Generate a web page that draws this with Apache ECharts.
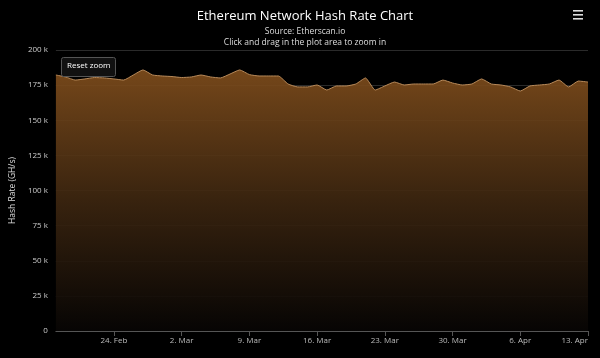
<!DOCTYPE html>
<html>
<head>
<meta charset="utf-8">
<script src="https://cdn.jsdelivr.net/npm/echarts@6/dist/echarts.min.js"></script>
<style>
html,body{margin:0;padding:0;background:#000;}
#c{width:600px;height:358px;}
</style>
</head>
<body>
<div id="c"></div>
<script>
// Dates: daily from 2020-02-18 to 2020-04-13
const dates = [];
(function(){
  let t = Date.UTC(2020,1,18);
  const end = Date.UTC(2020,3,13);
  while (t <= end) { dates.push(new Date(t)); t += 86400000; }
})();
const months = ['Jan','Feb','Mar','Apr','May','Jun','Jul','Aug','Sep','Oct','Nov','Dec'];
const categories = dates.map(d => d.getUTCDate() + '. ' + months[d.getUTCMonth()]);

// Hash rate values (GH/s)
const hashRate = [
  182200, 180800, 178600, 179400, 180400, 180100, 179400, 178600, 182200, 185800,
  182200, 181500, 181100, 180400, 180800, 182200, 180800, 180100, 182900, 185800,
  182500, 181500, 181500, 181500, 175800, 173700, 173700, 175100, 171500, 174400,
  174400, 175800, 180100, 171500, 174400, 177200, 175100, 175800, 175800, 175800,
  178600, 176500, 175100, 175800, 179400, 175800, 175100, 173700, 170800, 174400,
  175100, 175800, 178600, 173700, 177900, 177200
];
const tickLabels = ['24. Feb','2. Mar','9. Mar','16. Mar','23. Mar','30. Mar','6. Apr','13. Apr'];
const yTicks = [0, 25000, 50000, 75000, 100000, 125000, 150000, 175000, 200000];

const font = '"Open Sans", "DejaVu Sans", sans-serif';
const showTick = (i) => tickLabels.indexOf(categories[i]) >= 0;

const chart = echarts.init(document.getElementById('c'));
chart.setOption({
  backgroundColor: '#000',
  animation: false,
  title: [
    { text: 'Ethereum Network Hash Rate Chart', left: 300, top: 5, textAlign: 'center',
      textStyle: { color: '#fff', fontSize: 13, fontWeight: 'normal', fontFamily: font } },
    { text: 'Source: Etherscan.io', left: 300, top: 22, textAlign: 'center',
      textStyle: { color: '#ddd', fontSize: 8.5, fontWeight: 'normal', fontFamily: font } },
    { text: 'Click and drag in the plot area to zoom in', left: 300, top: 33, textAlign: 'center',
      textStyle: { color: '#ddd', fontSize: 8.5, fontWeight: 'normal', fontFamily: font } }
  ],
  grid: { left: 55, right: 12, top: 50, bottom: 27, containLabel: false },
  xAxis: {
    type: 'category',
    data: categories,
    boundaryGap: false,
    axisLine: { show: true, lineStyle: { color: '#555', width: 1 } },
    axisTick: { show: true, interval: showTick, length: 5, lineStyle: { color: '#555' } },
    axisLabel: { interval: showTick, color: '#bbb', fontSize: 8, fontFamily: font, margin: 6,
      alignMaxLabel: 'right' },
    splitLine: { show: false }
  },
  yAxis: {
    type: 'value',
    min: yTicks[0],
    max: yTicks[yTicks.length - 1],
    interval: 25000,
    name: 'Hash Rate (GH/s)',
    nameLocation: 'middle',
    nameGap: 33,
    nameRotate: 90,
    nameTextStyle: { color: '#ddd', fontSize: 8.5, fontFamily: font },
    axisLine: { show: false },
    axisTick: { show: false },
    axisLabel: {
      color: '#ccc', fontSize: 8, fontFamily: font, margin: 8,
      formatter: v => v === 0 ? '0' : (v / 1000) + ' k'
    },
    splitLine: { show: true, lineStyle: { color: '#2a2a2a', width: 1 } }
  },
  series: [{
    type: 'line',
    data: hashRate,
    showSymbol: false,
    symbol: 'none',
    smooth: 0.15,
    lineStyle: { color: '#b88a5a', width: 1 },
    areaStyle: {
      opacity: 0.92,
      color: {
        type: 'linear', x: 0, y: 0, x2: 0, y2: 1,
        colorStops: [
          { offset: 0, color: '#7f4d1c' },
          { offset: 0.5, color: '#3d2610' },
          { offset: 1, color: '#070504' }
        ]
      }
    }
  }],
  graphic: [
    { type: 'rect', left: 61, top: 57, shape: { width: 54, height: 19, r: 2 },
      style: { fill: '#111', stroke: '#555', lineWidth: 1 }, z: 100 },
    { type: 'text', left: 67, top: 62,
      style: { text: 'Reset zoom', fill: '#fff', font: '8px ' + font }, z: 101 },
    { type: 'rect', left: 573, top: 10, shape: { width: 10, height: 1.6 }, style: { fill: '#ddd' } },
    { type: 'rect', left: 573, top: 14, shape: { width: 10, height: 1.6 }, style: { fill: '#ddd' } },
    { type: 'rect', left: 573, top: 18, shape: { width: 10, height: 1.6 }, style: { fill: '#ddd' } }
  ]
});
</script>
</body>
</html>
